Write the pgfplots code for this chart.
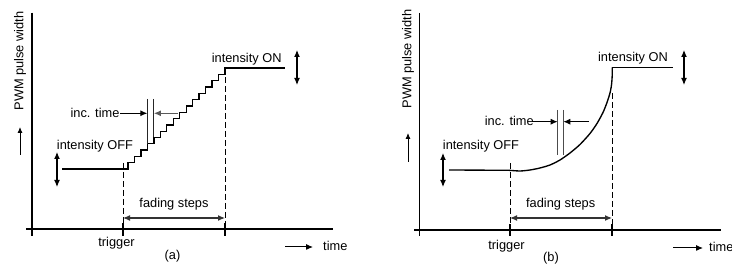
\documentclass[border=0pt]{standalone}
\usepackage{pgfplots}
\pgfplotsset{compat=1.18}
\usepackage{fontspec}
\setmainfont{Liberation Sans}
\usetikzlibrary{arrows.meta}
\begin{document}
\fontsize{12.8}{15}\selectfont
\begin{tikzpicture}
\begin{axis}[
  scale only axis, width=732pt, height=264pt,
  xmin=0, xmax=732, ymin=0, ymax=264, y dir=reverse,
  axis lines=none, clip=false,
  every axis plot/.append style={line cap=butt, line join=miter},
]
\tikzset{
  ln/.style={black, line width=1.5pt},
  ds/.style={black, line width=1pt, dash pattern=on 6pt off 3pt},
  ah/.style={-{Latex[length=7pt,width=6pt]}},
  dah/.style={{Latex[length=7pt,width=6pt]}-{Latex[length=7pt,width=6pt]}},
  txt/.style={anchor=base, inner sep=0pt, font=\fontsize{12.8}{15}\selectfont},
}
% ---------------- panel (a) ----------------
\addplot[ln] coordinates {(32,12.7) (32,236)};
\addplot[ln] coordinates {(26,229) (333,229)};
\addplot[ln] coordinates {(123,223) (123,236)};
\addplot[ln] coordinates {(225,223) (225,236)};
\addplot[black, line width=1.35pt] coordinates {
(62,169) (128,169) (128,162.7) (134.5,162.7) (134.5,156.4) (140.9,156.4)
(140.9,150.1) (147.4,150.1) (147.4,143.8) (153.9,143.8) (153.9,137.5)
(160.3,137.5) (160.3,131.2) (166.8,131.2) (166.8,124.9) (173.3,124.9)
(173.3,118.6) (179.7,118.6) (179.7,112.3) (186.2,112.3) (186.2,106.0)
(192.7,106.0) (192.7,99.7) (199.1,99.7) (199.1,93.4) (205.6,93.4)
(205.6,87.1) (212.1,87.1) (212.1,80.8) (218.5,80.8) (218.5,74.5)
(225,74.5) (225,68) (285,68)};
\addplot[ds] coordinates {(123,163) (123,229)};
\addplot[ds] coordinates {(225,68) (225,229)};
\addplot[black!80, line width=1.1pt, dah] coordinates {(123,218) (225,218)};
\addplot[black, line width=1.1pt, ah] coordinates {(120,113.3) (147.4,113.3)};
\addplot[black!65, line width=1.1pt, ah] coordinates {(178,113.3) (153.9,113.3)};
\addplot[black!85, line width=1pt] coordinates {(147.4,99) (147.4,143.8)};
\addplot[black!85, line width=1pt] coordinates {(153.9,99) (153.9,137.5)};
\addplot[black, line width=1.1pt, dah] coordinates {(57,152) (57,187)};
\addplot[black, line width=1.1pt, dah] coordinates {(297,50) (297,85)};
\addplot[black, line width=0.9pt, -{Latex[length=6pt,width=5pt]}] coordinates {(20,155) (20,127)};
\addplot[black, line width=1pt, ah] coordinates {(285,247) (313,247)};
\node[txt] at (axis cs:95,117.3) {inc. time};
\node[txt] at (axis cs:95,149.5) {intensity OFF};
\node[txt] at (axis cs:246.7,62.7) {intensity ON};
\node[txt] at (axis cs:174,207.3) {fading steps};
\node[txt] at (axis cs:116.5,246.7) {trigger};
\node[txt] at (axis cs:172.5,260) {(a)};
\node[txt, anchor=base west] at (axis cs:323,250.7) {time};
\node[inner sep=0pt, rotate=90] at (axis cs:20,61) {PWM pulse width};
% ---------------- panel (b) ----------------
\addplot[ln] coordinates {(419.3,13) (419.3,236)};
\addplot[ln] coordinates {(414,230) (721,230)};
\addplot[ln] coordinates {(510,224) (510,236)};
\addplot[ln] coordinates {(612,224) (612,236)};
\addplot[black, line width=1.35pt] coordinates {(449,170) (509,170.3)};
\addplot[black, line width=1.35pt, smooth, tension=0.4] coordinates {
(509,170.3) (520,171) (530,170) (540,168) (550,165) (560,160) (570,153)
(580,144.5) (590,133.5) (597,123.5) (603,112.5) (607,102.5) (610,93)
(611.5,85) (612.2,76) (612.3,67.3)};
\addplot[black, line width=1.35pt] coordinates {(612.3,67.3) (673,67.3)};
\addplot[ds] coordinates {(510,163) (510,230)};
\addplot[ds] coordinates {(612,93) (612,230)};
\addplot[black!80, line width=1.1pt, dah] coordinates {(510,218) (612,218)};
\addplot[black, line width=1.1pt, ah] coordinates {(532,121.7) (557.7,121.7)};
\addplot[black, line width=1.1pt, ah] coordinates {(589,121.7) (563.3,121.7)};
\addplot[black!70, line width=1pt] coordinates {(557.7,110) (557.7,155)};
\addplot[black!70, line width=1pt] coordinates {(563.3,110) (563.3,155)};
\addplot[black, line width=1.1pt, dah] coordinates {(443,153) (443,187)};
\addplot[black, line width=1.1pt, dah] coordinates {(684,50) (684,85)};
\addplot[black, line width=0.9pt, -{Latex[length=6pt,width=5pt]}] coordinates {(408,162) (408,133)};
\addplot[black, line width=1pt, ah] coordinates {(673,248) (703,248)};
\node[txt] at (axis cs:509.3,125.7) {inc. time};
\node[txt] at (axis cs:481,149.3) {intensity OFF};
\node[txt] at (axis cs:633,61.7) {intensity ON};
\node[txt] at (axis cs:560.7,207.3) {fading steps};
\node[txt] at (axis cs:506.5,250) {trigger};
\node[txt] at (axis cs:551,261.7) {(b)};
\node[txt, anchor=base west] at (axis cs:709,251.5) {time};
\node[inner sep=0pt, rotate=90] at (axis cs:408,59) {PWM pulse width};
\end{axis}
\pgfresetboundingbox
\path[use as bounding box] (0,0) rectangle (732pt,264pt);
\end{tikzpicture}
\end{document}
